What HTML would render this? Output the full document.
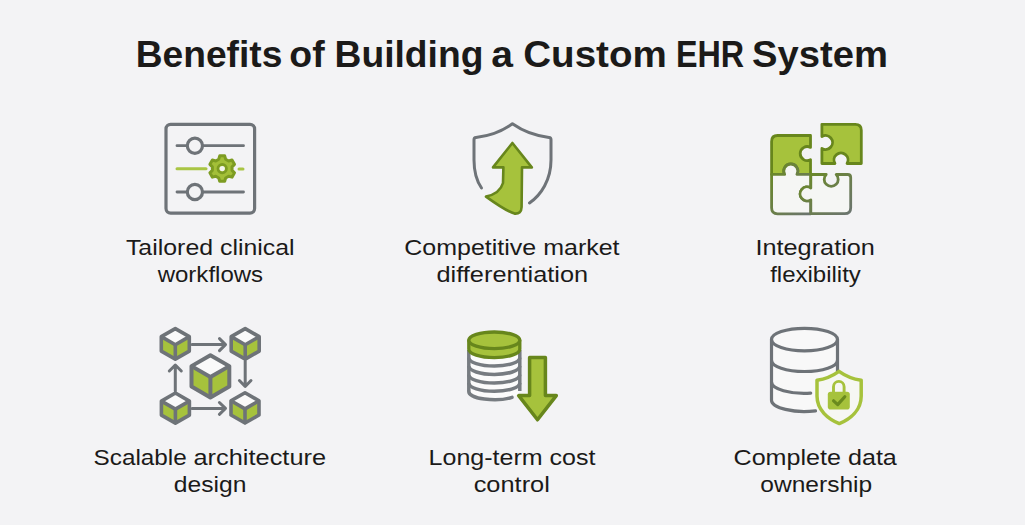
<!DOCTYPE html>
<html><head><meta charset="utf-8"><style>
html,body{margin:0;padding:0;}
body{width:1025px;height:525px;background:#f3f3f5;position:relative;overflow:hidden;font-family:"Liberation Sans",sans-serif;color:#1b1a19;}
.ic{position:absolute;left:0;top:0;}
.t{position:absolute;width:1000px;text-align:center;white-space:nowrap;}
.t span{display:inline-block;transform-origin:50% 50%;}
</style></head><body>
<svg class="ic" width="1025" height="525" viewBox="0 0 1025 525"><rect x="166" y="124.4" width="88.6" height="88.8" rx="4.6" fill="none" stroke="#6e7378" stroke-width="3.2"/><line x1="177" y1="145.7" x2="243.5" y2="145.7" stroke="#6e7378" stroke-width="2.8" stroke-linecap="round"/><circle cx="194.9" cy="145.7" r="7.6" fill="#f3f3f5" stroke="#6e7378" stroke-width="3.2"/><line x1="177" y1="192.0" x2="243.5" y2="192.0" stroke="#6e7378" stroke-width="2.8" stroke-linecap="round"/><circle cx="194.9" cy="192.0" r="7.6" fill="#f3f3f5" stroke="#6e7378" stroke-width="3.2"/><line x1="177" y1="168.7" x2="206" y2="168.7" stroke="#a9c544" stroke-width="3" stroke-linecap="round"/><line x1="239" y1="168.9" x2="243" y2="168.9" stroke="#a9c544" stroke-width="3" stroke-linecap="round"/><path d="M218.78,159.20 L219.72,155.84 L224.68,155.84 L225.62,159.20 L228.63,160.94 L232.01,160.07 L234.49,164.37 L232.05,166.86 L232.05,170.34 L234.49,172.83 L232.01,177.13 L228.63,176.26 L225.62,178.00 L224.68,181.36 L219.72,181.36 L218.78,178.00 L215.77,176.26 L212.39,177.13 L209.91,172.83 L212.35,170.34 L212.35,166.86 L209.91,164.37 L212.39,160.07 L215.77,160.94 Z" fill="#a3bf38" stroke="#7d9c22" stroke-width="3" stroke-linejoin="round"/><circle cx="222.2" cy="168.6" r="4.2" fill="none" stroke="#7d9c22" stroke-width="2.8"/><circle cx="222.2" cy="168.6" r="2.7" fill="#f4f5ef"/><path d="M481.5,188 C476,180 474,171 474,160 L474,139.6 Q474,137.6 476,137.4 C491,135.8 503,130.5 512.4,123.8 C522,130.5 534,135.8 549,137.4 Q551,137.6 551,139.6 L551,160 C551,180 541,195 529.5,203" fill="none" stroke="#6e7378" stroke-width="3" stroke-linecap="round" stroke-linejoin="round"/><path d="M512.4,143 L531.8,167.4 L522,167.4 L521.6,207 Q521.4,214.2 514.5,213.6 Q506,211 486,196.6 Q500,193.5 503,183 L503.4,167.4 L493,167.4 Z" fill="#a6c23c" stroke="#67861c" stroke-width="2.6" stroke-linejoin="round"/><defs><linearGradient id="pg" x1="0" y1="0" x2="1" y2="1"><stop offset="0" stop-color="#6a8a22"/><stop offset="1" stop-color="#6b7470"/></linearGradient></defs><path d="M771.6,141.5 Q771.6,135.5 777.6,135.5 L810.5,135.5 L810.5,147.43 A7,7 0 1 0 810.5,159.77 L810.5,174.4 L796.92,174.4 A7,7 0 1 0 784.68,174.4 L771.6,174.4 Z" fill="#a6c23c" stroke="#67861c" stroke-width="2.8" stroke-linejoin="round"/><path d="M821.9,124.3 L855.3,124.3 Q861.3,124.3 861.3,130.3 L861.3,163.5 L847.06,163.5 A7,7 0 1 0 834.94,163.5 L821.9,163.5 L821.9,148.5 A7,7 0 1 0 821.9,136.5 Z" fill="#a6c23c" stroke="#67861c" stroke-width="2.8" stroke-linejoin="round"/><path d="M771.6,174.4 L784.68,174.4 A7,7 0 1 1 796.92,174.4 L810.8,174.4 L810.8,187.96 A7,7 0 1 0 810.8,199.84 L810.8,213.8 L777.6,213.8 Q771.6,213.8 771.6,207.8 Z" fill="#f5f6f4" stroke="url(#pg)" stroke-width="2.8" stroke-linejoin="round"/><path d="M810.8,174.5 L826.2,174.5 A7,7 0 1 0 836.2,174.5 L847.7,174.5 Q850.7,174.5 850.7,177.5 L850.7,207.7 Q850.7,213.7 844.7,213.7 L810.8,213.7 L810.8,199.84 A7,7 0 1 1 810.8,187.96 Z" fill="#f5f6f4" stroke="url(#pg)" stroke-width="2.8" stroke-linejoin="round"/><polygon points="175.30,328.60 189.30,336.68 175.30,344.76 161.30,336.68" fill="#fafafa"/><polygon points="161.30,336.68 175.30,344.76 175.30,359.16 161.30,351.08" fill="#a6c23c"/><polygon points="175.30,344.76 189.30,336.68 189.30,351.08 175.30,359.16" fill="#a6c23c"/><polygon points="175.30,328.60 189.30,336.68 189.30,351.08 175.30,359.16 161.30,351.08 161.30,336.68" fill="none" stroke="#6e7378" stroke-width="3.6" stroke-linejoin="round"/><polyline points="161.30,336.68 175.30,344.76 189.30,336.68" fill="none" stroke="#6e7378" stroke-width="3.6" stroke-linejoin="round"/><line x1="175.3" y1="344.76" x2="175.3" y2="359.16" stroke="#6e7378" stroke-width="3.6"/><polygon points="245.20,328.60 259.20,336.68 245.20,344.76 231.20,336.68" fill="#fafafa"/><polygon points="231.20,336.68 245.20,344.76 245.20,359.16 231.20,351.08" fill="#a6c23c"/><polygon points="245.20,344.76 259.20,336.68 259.20,351.08 245.20,359.16" fill="#a6c23c"/><polygon points="245.20,328.60 259.20,336.68 259.20,351.08 245.20,359.16 231.20,351.08 231.20,336.68" fill="none" stroke="#6e7378" stroke-width="3.6" stroke-linejoin="round"/><polyline points="231.20,336.68 245.20,344.76 259.20,336.68" fill="none" stroke="#6e7378" stroke-width="3.6" stroke-linejoin="round"/><line x1="245.2" y1="344.76" x2="245.2" y2="359.16" stroke="#6e7378" stroke-width="3.6"/><polygon points="175.40,393.00 189.40,401.08 175.40,409.16 161.40,401.08" fill="#fafafa"/><polygon points="161.40,401.08 175.40,409.16 175.40,423.16 161.40,415.08" fill="#a6c23c"/><polygon points="175.40,409.16 189.40,401.08 189.40,415.08 175.40,423.16" fill="#a6c23c"/><polygon points="175.40,393.00 189.40,401.08 189.40,415.08 175.40,423.16 161.40,415.08 161.40,401.08" fill="none" stroke="#6e7378" stroke-width="3.6" stroke-linejoin="round"/><polyline points="161.40,401.08 175.40,409.16 189.40,401.08" fill="none" stroke="#6e7378" stroke-width="3.6" stroke-linejoin="round"/><line x1="175.4" y1="409.16" x2="175.4" y2="423.16" stroke="#6e7378" stroke-width="3.6"/><polygon points="245.00,392.70 259.00,400.78 245.00,408.86 231.00,400.78" fill="#fafafa"/><polygon points="231.00,400.78 245.00,408.86 245.00,423.06 231.00,414.98" fill="#a6c23c"/><polygon points="245.00,408.86 259.00,400.78 259.00,414.98 245.00,423.06" fill="#a6c23c"/><polygon points="245.00,392.70 259.00,400.78 259.00,414.98 245.00,423.06 231.00,414.98 231.00,400.78" fill="none" stroke="#6e7378" stroke-width="3.6" stroke-linejoin="round"/><polyline points="231.00,400.78 245.00,408.86 259.00,400.78" fill="none" stroke="#6e7378" stroke-width="3.6" stroke-linejoin="round"/><line x1="245.0" y1="408.86" x2="245.0" y2="423.06" stroke="#6e7378" stroke-width="3.6"/><polygon points="210.40,355.20 229.30,366.11 210.40,377.01 191.50,366.11" fill="#fafafa"/><polygon points="191.50,366.11 210.40,377.01 210.40,397.41 191.50,386.51" fill="#a6c23c"/><polygon points="210.40,377.01 229.30,366.11 229.30,386.51 210.40,397.41" fill="#a6c23c"/><polygon points="210.40,355.20 229.30,366.11 229.30,386.51 210.40,397.41 191.50,386.51 191.50,366.11" fill="none" stroke="#6e7378" stroke-width="4.0" stroke-linejoin="round"/><polyline points="191.50,366.11 210.40,377.01 229.30,366.11" fill="none" stroke="#6e7378" stroke-width="4.0" stroke-linejoin="round"/><line x1="210.4" y1="377.01" x2="210.4" y2="397.41" stroke="#6e7378" stroke-width="4.0"/><path d="M192,344.6 L225.3,344.6 M219.5,338.6 L225.5,344.6 L219.5,350.6" fill="none" stroke="#6e7378" stroke-width="3" stroke-linecap="round" stroke-linejoin="round"/><path d="M245.2,361 L245.2,386.3 M239.4,380.5 L245.2,386.5 L251,380.5" fill="none" stroke="#6e7378" stroke-width="3" stroke-linecap="round" stroke-linejoin="round"/><path d="M192,408.4 L225.3,408.4 M219.4,402.5 L225.5,408.4 L219.4,414.3" fill="none" stroke="#6e7378" stroke-width="3" stroke-linecap="round" stroke-linejoin="round"/><path d="M175.3,391 L175.3,365 M169.3,371 L175.3,365 L181.3,371" fill="none" stroke="#6e7378" stroke-width="3" stroke-linecap="round" stroke-linejoin="round"/><path d="M468.8,349.5 L468.8,391 A25.5,8.3 0 0 0 519.8,391 L519.8,349.5 Z" fill="#fbfbfb"/><path d="M468.8,357.7 A25.5,8.3 0 0 0 519.8,357.7" fill="none" stroke="#777c81" stroke-width="3.5"/><path d="M468.8,366.09999999999997 A25.5,8.3 0 0 0 519.8,366.09999999999997" fill="none" stroke="#777c81" stroke-width="3.5"/><path d="M468.8,374.7 A25.5,8.3 0 0 0 519.8,374.7" fill="none" stroke="#777c81" stroke-width="3.5"/><path d="M468.8,383.0 A25.5,8.3 0 0 0 519.8,383.0" fill="none" stroke="#777c81" stroke-width="3.5"/><path d="M468.8,391.4 A25.5,8.3 0 0 0 512.00,397.37" fill="none" stroke="#777c81" stroke-width="3.5" stroke-linecap="round"/><line x1="468.8" y1="350" x2="468.8" y2="391.4" stroke="#777c81" stroke-width="3.5"/><line x1="519.8" y1="350" x2="519.8" y2="391" stroke="#777c81" stroke-width="3.5"/><path d="M468.8,340.5 L468.8,349.3 A25.5,8.3 0 0 0 519.8,349.3 L519.8,340.5 Z" fill="#a6c23c" stroke="#67861c" stroke-width="3.3" stroke-linejoin="round"/><ellipse cx="494.3" cy="340.3" rx="25.5" ry="8.3" fill="#a6c23c" stroke="#67861c" stroke-width="3.3"/><path d="M529.6,357.6 L545.4,357.6 L545.4,395.6 L556.3,395.6 L537.5,419.8 L518.7,395.6 L529.6,395.6 Z" fill="#a6c23c" stroke="#67861c" stroke-width="3.5" stroke-linejoin="round"/><path d="M771.5,339.6 L771.5,399.6 A33,11.3 0 0 0 837.5,399.6 L837.5,339.6 Z" fill="#f8f8f8"/><ellipse cx="804.5" cy="339.6" rx="33" ry="11.3" fill="#f8f8f8" stroke="#6e7378" stroke-width="3.2"/><path d="M771.5,360.2 A33,11.3 0 0 0 837.5,360.2" fill="none" stroke="#6e7378" stroke-width="3.2"/><path d="M771.5,382.09999999999997 A33,11.3 0 0 0 810.70,393.20" fill="none" stroke="#6e7378" stroke-width="3.2" stroke-linecap="round"/><path d="M771.5,400.2 A33,11.3 0 0 0 815.50,410.85" fill="none" stroke="#6e7378" stroke-width="3.2" stroke-linecap="round"/><line x1="771.5" y1="339.6" x2="771.5" y2="400.2" stroke="#6e7378" stroke-width="3.2"/><line x1="837.5" y1="339.6" x2="837.5" y2="376" stroke="#6e7378" stroke-width="3.2"/><path d="M839,371.4 Q829,378.6 817,380.2 L817,396 C817,410 828,419 839.3,423.6 C850.5,419 861.2,410 861.2,396 L861.2,380.2 Q849,378.6 839,371.4 Z" fill="#f6f7f3" stroke="#a6c23c" stroke-width="3.5" stroke-linejoin="round"/><path d="M833.5,393 L833.5,386.7 A5.3,5.3 0 0 1 844.1,386.7 L844.1,393" fill="none" stroke="#a6c23c" stroke-width="2.9"/><rect x="827.8" y="391.8" width="22" height="17.8" rx="2.8" fill="#a6c23c"/><path d="M833.6,400.8 L837.7,404.6 L844.8,396.7" fill="none" stroke="#6a8a1e" stroke-width="3.2" stroke-linecap="round" stroke-linejoin="round"/></svg>
<div class="t" style="left:-290.68px;top:37px;font-size:36px;font-weight:700;line-height:36px"><span style="transform:scaleX(1.0331)">Benefits</span></div><div class="t" style="left:-192.89px;top:37px;font-size:36px;font-weight:700;line-height:36px"><span style="transform:scaleX(1.0386)">of</span></div><div class="t" style="left:-91.29px;top:37px;font-size:36px;font-weight:700;line-height:36px"><span style="transform:scaleX(1.0339)">Building</span></div><div class="t" style="left:1.76px;top:37px;font-size:36px;font-weight:700;line-height:36px"><span style="transform:scaleX(1.0847)">a</span></div><div class="t" style="left:95.31px;top:37px;font-size:36px;font-weight:700;line-height:36px"><span style="transform:scaleX(1.0709)">Custom</span></div><div class="t" style="left:209.89px;top:37px;font-size:36px;font-weight:700;line-height:36px"><span style="transform:scaleX(0.8973)">EHR</span></div><div class="t" style="left:320.10px;top:37px;font-size:36px;font-weight:700;line-height:36px"><span style="transform:scaleX(1.0615)">System</span></div><div class="t" style="left:-289.82px;top:237px;font-size:22.5px;font-weight:400;line-height:22.5px"><span style="transform:scaleX(1.1058)">Tailored clinical</span></div><div class="t" style="left:-290.00px;top:264px;font-size:22.5px;font-weight:400;line-height:22.5px"><span style="transform:scaleX(1.0674)">workflows</span></div><div class="t" style="left:11.55px;top:237px;font-size:22.5px;font-weight:400;line-height:22.5px"><span style="transform:scaleX(1.1107)">Competitive market</span></div><div class="t" style="left:12.12px;top:264px;font-size:22.5px;font-weight:400;line-height:22.5px"><span style="transform:scaleX(1.1257)">differentiation</span></div><div class="t" style="left:315.50px;top:237px;font-size:22.5px;font-weight:400;line-height:22.5px"><span style="transform:scaleX(1.1231)">Integration</span></div><div class="t" style="left:315.37px;top:264px;font-size:22.5px;font-weight:400;line-height:22.5px"><span style="transform:scaleX(1.0671)">flexibility</span></div><div class="t" style="left:-359.51px;top:447px;font-size:22.5px;font-weight:400;line-height:22.5px"><span style="transform:scaleX(1.0797)">Scalable</span></div><div class="t" style="left:-240.14px;top:447px;font-size:22.5px;font-weight:400;line-height:22.5px"><span style="transform:scaleX(1.1274)">architecture</span></div><div class="t" style="left:-290.13px;top:474px;font-size:22.5px;font-weight:400;line-height:22.5px"><span style="transform:scaleX(1.0954)">design</span></div><div class="t" style="left:11.64px;top:447px;font-size:22.5px;font-weight:400;line-height:22.5px"><span style="transform:scaleX(1.1126)">Long-term cost</span></div><div class="t" style="left:12.28px;top:474px;font-size:22.5px;font-weight:400;line-height:22.5px"><span style="transform:scaleX(1.1281)">control</span></div><div class="t" style="left:315.46px;top:447px;font-size:22.5px;font-weight:400;line-height:22.5px"><span style="transform:scaleX(1.1162)">Complete data</span></div><div class="t" style="left:315.84px;top:474px;font-size:22.5px;font-weight:400;line-height:22.5px"><span style="transform:scaleX(1.0906)">ownership</span></div>
</body></html>
